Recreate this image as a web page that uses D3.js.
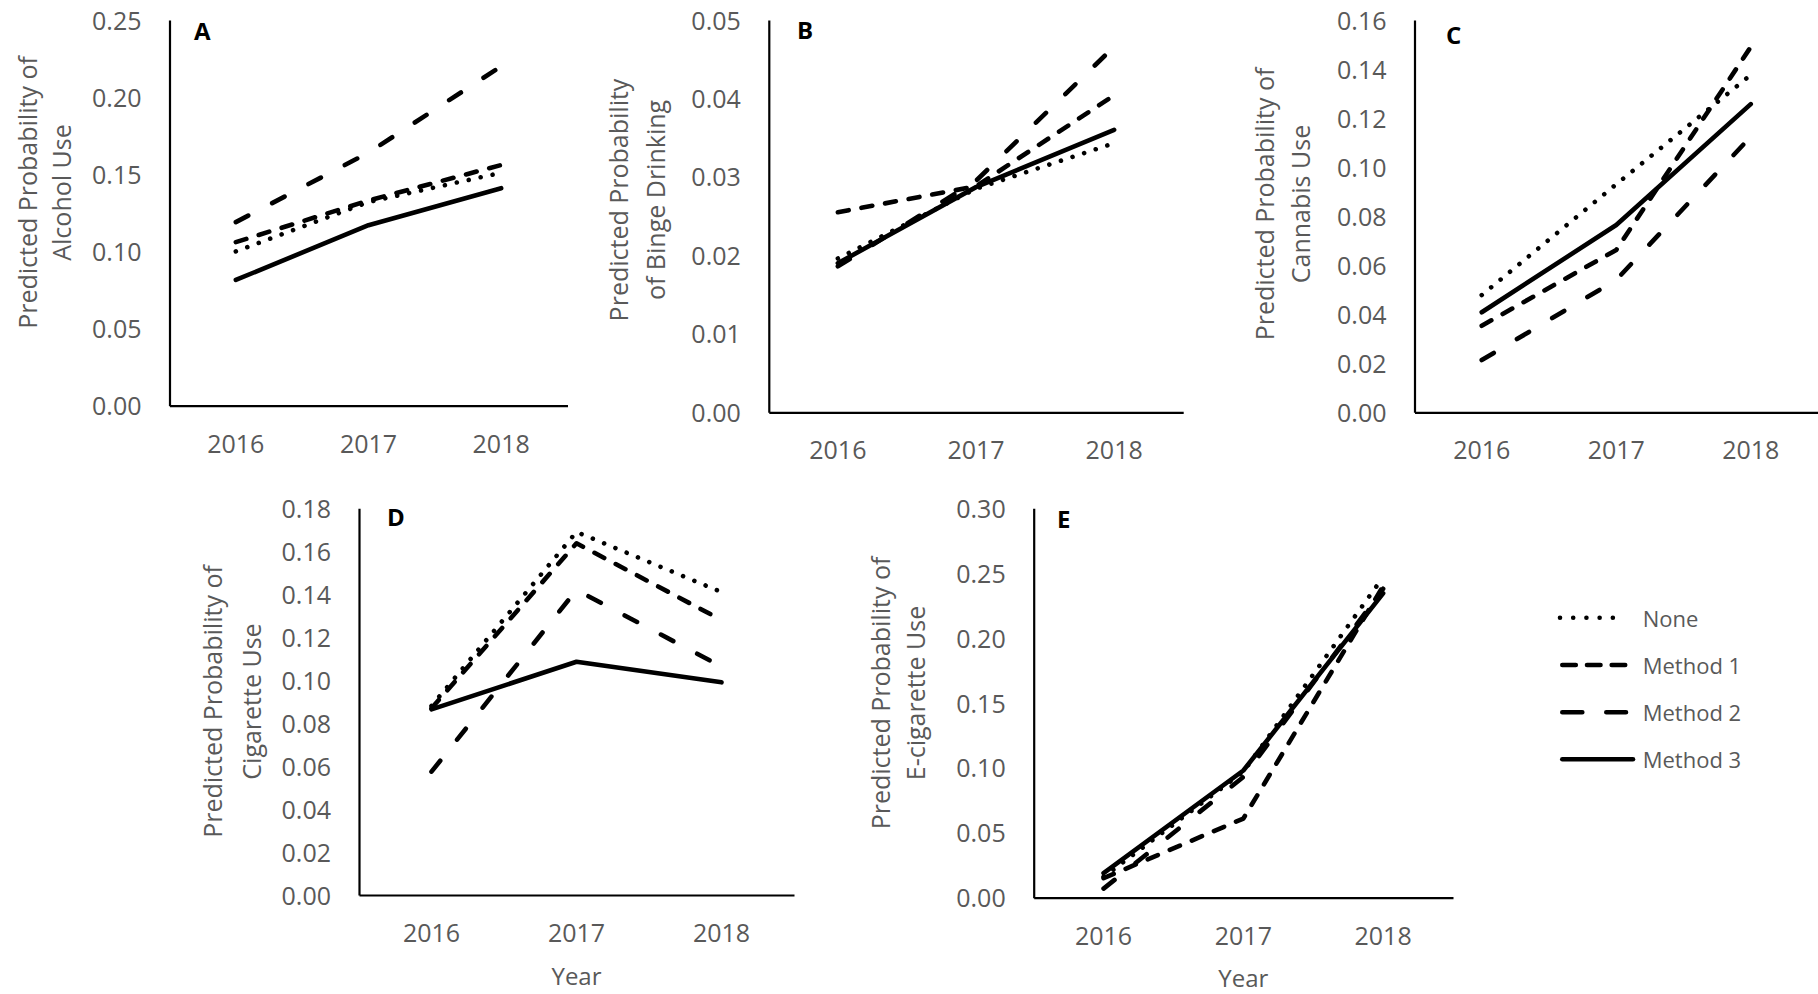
<!DOCTYPE html>
<html>
<head>
<meta charset="utf-8">
<script src="https://cdn.jsdelivr.net/npm/d3@7"></script>
<style>
  body { margin: 0; background: #fff; }
  svg { display: block; }
  text { font-family: 'Open Sans', sans-serif; }
</style>
</head>
<body>
<div id="chart"></div>
<script>
// --- data, series order: None, Method 1, Method 2, Method 3
const years = ['2016', '2017', '2018'];
const seriesNames = ['None', 'Method 1', 'Method 2', 'Method 3'];

const alcoholUse = [
  [0.100, 0.132, 0.151],
  [0.106, 0.133, 0.156],
  [0.119, 0.164, 0.220],
  [0.0815, 0.117, 0.141]
];
const bingeDrinking = [
  [0.0196, 0.0285, 0.0343],
  [0.0255, 0.0288, 0.0404],
  [0.0186, 0.0295, 0.0466],
  [0.0190, 0.0287, 0.0360]
];
const cannabisUse = [
  [0.0478, 0.093, 0.1376],
  [0.0353, 0.0662, 0.149],
  [0.0213, 0.054, 0.1124],
  [0.0408, 0.0764, 0.1257]
];
const cigaretteUse = [
  [0.088, 0.169, 0.141],
  [0.0869, 0.1637, 0.128],
  [0.0574, 0.142, 0.1063],
  [0.0864, 0.1086, 0.099]
];
const ecigaretteUse = [
  [0.016, 0.097, 0.247],
  [0.015, 0.061, 0.240],
  [0.007, 0.093, 0.238],
  [0.019, 0.098, 0.2345]
];

const alcoholTicks = [0, 0.05, 0.10, 0.15, 0.20, 0.25];
const bingeTicks = [0, 0.01, 0.02, 0.03, 0.04, 0.05];
const cannabisTicks = [0, 0.02, 0.04, 0.06, 0.08, 0.10, 0.12, 0.14, 0.16];
const cigaretteTicks = [0, 0.02, 0.04, 0.06, 0.08, 0.10, 0.12, 0.14, 0.16, 0.18];
const ecigTicks = [0, 0.05, 0.10, 0.15, 0.20, 0.25, 0.30];

// --- layout of the five panels (pixel positions, kept apart from data)
const panels = [
  { letter: 'A', data: alcoholUse, ticks: alcoholTicks, title: ['Predicted Probability of', 'Alcohol Use'],
    x0: 169.5, x1: 567.5, yTop: 20, yBot: 405.7, titleX: [26.8, 61.2], titleY: 192.5, letterPos: [194, 30] },
  { letter: 'B', data: bingeDrinking, ticks: bingeTicks, title: ['Predicted Probability', 'of Binge Drinking'],
    x0: 768.8, x1: 1183.2, yTop: 20, yBot: 412.3, titleX: [617.8, 655.4], titleY: 200, letterPos: [797, 29] },
  { letter: 'C', data: cannabisUse, ticks: cannabisTicks, title: ['Predicted Probability of', 'Cannabis Use'],
    x0: 1414.5, x1: 1818, yTop: 20, yBot: 412.3, titleX: [1263.9, 1300], titleY: 204, letterPos: [1446, 34] },
  { letter: 'D', data: cigaretteUse, ticks: cigaretteTicks, title: ['Predicted Probability of', 'Cigarette Use'],
    x0: 359, x1: 794, yTop: 508.3, yBot: 895, titleX: [211.6, 251.2], titleY: 701.5, letterPos: [387, 516.7], yearY: 975 },
  { letter: 'E', data: ecigaretteUse, ticks: ecigTicks, title: ['Predicted Probability of', 'E-cigarette Use'],
    x0: 1033.7, x1: 1453, yTop: 508.3, yBot: 897.7, titleX: [879.5, 915.1], titleY: 693, letterPos: [1057, 518], yearY: 977 }
];

const dashes = ['0.01 12.2', '11 13', '14 27', null];
const legendDashes = ['0.01 13.2', '13.5 11.2', '20 24', null];
const textColor = '#595959';
const lineW = 4.6;

const width = 1818, height = 994;
const svg = d3.select('#chart').append('svg')
  .attr('width', width)
  .attr('height', height)
  .attr('viewBox', `0 0 ${width} ${height}`);

panels.forEach(p => {
  const g = svg.append('g').attr('class', 'panel-' + p.letter);

  const x = d3.scaleBand().domain(years).range([p.x0, p.x1]);
  const y = d3.scaleLinear().domain([0, d3.max(p.ticks)]).range([p.yBot, p.yTop]);

  // x axis
  g.append('g')
    .attr('transform', `translate(0,${p.yBot})`)
    .call(d3.axisBottom(x).tickSize(0).tickSizeOuter(0))
    .call(a => a.select('.domain').attr('stroke', '#000').attr('stroke-width', 2.2))
    .call(a => a.selectAll('text')
      .attr('y', 38).attr('dy', '0.36em')
      .attr('fill', textColor).style('font-size', '25px'));

  // y axis
  g.append('g')
    .attr('transform', `translate(${p.x0},0)`)
    .call(d3.axisLeft(y).tickValues(p.ticks).tickFormat(d3.format('.2f')).tickSize(0).tickSizeOuter(0).tickPadding(28))
    .call(a => a.select('.domain').attr('stroke', '#000').attr('stroke-width', 2.2))
    .call(a => a.selectAll('text')
      .attr('dy', '0.36em')
      .attr('fill', textColor).style('font-size', '25px'));

  // axis title (two rotated lines)
  p.title.forEach((t, i) => {
    g.append('text')
      .attr('transform', `translate(${p.titleX[i]},${p.titleY}) rotate(-90)`)
      .attr('text-anchor', 'middle')
      .attr('dominant-baseline', 'central')
      .attr('fill', textColor)
      .style('font-size', '25px')
      .text(t);
  });

  if (p.yearY) {
    g.append('text')
      .attr('x', (p.x0 + p.x1) / 2)
      .attr('y', p.yearY)
      .attr('text-anchor', 'middle')
      .attr('dominant-baseline', 'central')
      .attr('fill', textColor)
      .style('font-size', '24px')
      .text('Year');
  }

  // panel letter
  g.append('text')
    .attr('x', p.letterPos[0])
    .attr('y', p.letterPos[1])
    .attr('dominant-baseline', 'central')
    .attr('fill', '#000')
    .style('font-size', '24px')
    .style('font-weight', 'bold')
    .text(p.letter);

  // series lines
  const line = d3.line()
    .x((d, i) => x(years[i]) + x.bandwidth() / 2)
    .y(d => y(d));

  p.data.forEach((vals, si) => {
    g.append('path')
      .datum(vals)
      .attr('d', line)
      .attr('fill', 'none')
      .attr('stroke', '#000')
      .attr('stroke-width', lineW)
      .attr('stroke-linecap', 'round')
      .attr('stroke-linejoin', 'round')
      .attr('stroke-dasharray', dashes[si]);
  });
});

// --- legend
const legendY = [617.7, 665, 712.3, 759.3];
const legend = svg.append('g').attr('class', 'legend');
seriesNames.forEach((name, i) => {
  legend.append('line')
    .attr('x1', i === 0 ? 1560 : 1562.3)
    .attr('x2', i === 3 ? 1633 : 1626)
    .attr('y1', legendY[i])
    .attr('y2', legendY[i])
    .attr('stroke', '#000')
    .attr('stroke-width', lineW)
    .attr('stroke-linecap', 'round')
    .attr('stroke-dasharray', legendDashes[i]);
  legend.append('text')
    .attr('x', 1642.7)
    .attr('y', legendY[i])
    .attr('dominant-baseline', 'central')
    .attr('fill', textColor)
    .style('font-size', '22px')
    .text(name);
});
</script>
</body>
</html>
